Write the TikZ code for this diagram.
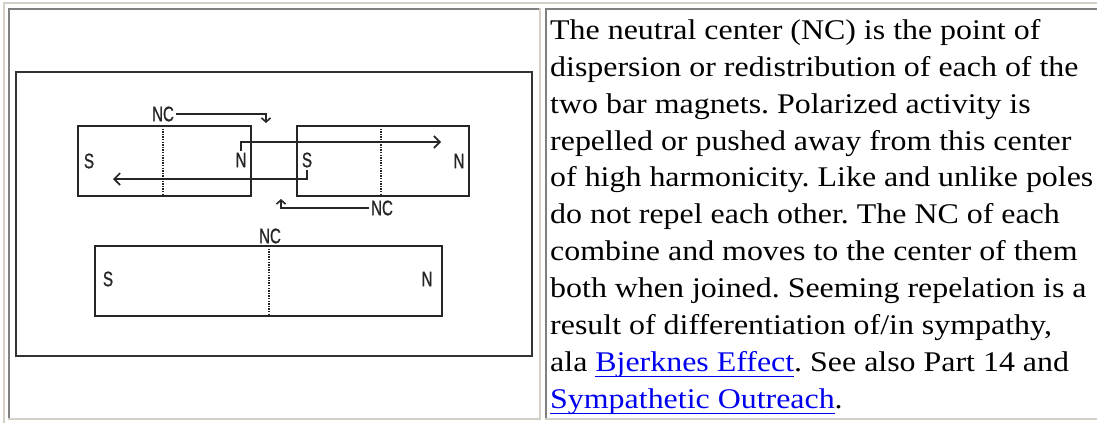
\documentclass[tikz,border=0pt]{standalone}
\usepackage{fontspec}
\usetikzlibrary{arrows.meta,positioning}
\newfontfamily\pixfont[FakeStretch=0.72,FakeBold=1]{Liberation Sans}
\newfontfamily\bodyfont[FakeStretch=1.12]{Liberation Serif}
\definecolor{linkblue}{RGB}{0,0,238}
\definecolor{tableframe}{RGB}{212,208,200}
\definecolor{cellframe}{RGB}{128,128,128}
\newsavebox\linkbox
\newcommand\weblink[1]{\sbox\linkbox{\color{linkblue}#1}{\color{linkblue}\rlap{\rule[-5.75pt]{\wd\linkbox}{1.5pt}}\usebox\linkbox}}
\frenchspacing

\begin{document}
\begin{tikzpicture}[
    x=1pt, y=-1pt,
    >={Straight Barb[length=6pt,width=12pt]},
    bar/.style       = {draw=black!85, line width=1.6pt, minimum height=70pt, inner sep=0pt},
    pole/.style      = {font=\pixfont\fontsize{21}{21}\selectfont, inner sep=2pt, text=black!85},
    flow/.style      = {draw=black!85, line width=1.6pt, ->},
    smallflow/.style = {draw=black!85, line width=1.6pt, -{Straight Barb[length=4pt,width=9pt]}},
    dots/.style      = {draw=black!85, line width=1.3pt, dash pattern=on 1.3pt off 1.3pt},
    txt/.style       = {anchor=base west, inner sep=0pt, font=\bodyfont\fontsize{28.5}{33}\selectfont},
  ]
	\useasboundingbox (0,0) rectangle (1097,423);
	
	% Tabelle
	\draw[tableframe, line width=2pt] (3.5,423) -- (3.5,2.5) -- (1097,2.5);
	\draw[cellframe, line width=2pt] (9,419) -- (9,9) -- (540,9);
	\draw[tableframe, line width=2pt] (540,8) -- (540,419) -- (8,419);
	\draw[cellframe, line width=2pt] (546,419) -- (546,9) -- (1097,9);
	\draw[tableframe, line width=2pt] (545,419) -- (1097,419);
	
	% Bildrahmen
	\draw[black!80, line width=2pt] (16,72) rectangle (532,356);
	
	% Stabmagnete
	\node (Mag1) at (164.5,161) [bar, minimum width=173pt]{};
	\node (Mag2) at (383,161)   [bar, minimum width=172pt]{};
	\node (Mag3) at (268.5,281) [bar, minimum width=347pt]{};
	
	% neutrale Zentren
	\draw[dots] (163,126) -- (163,196);
	\draw[dots] (381,126) -- (381,196);
	\draw[dots] (269,246) -- (269,316);
	
	% Pole
	\node (S1) at (89,161)  [pole]{S};
	\node (N1) at (241,160) [pole]{N};
	\node (S2) at (307,160) [pole]{S};
	\node (N2) at (459,161) [pole]{N};
	\node (S3) at (108,279) [pole]{S};
	\node (N3) at (427,279) [pole]{N};
	
	% NC Beschriftung
	\node (NC1) at (163,114) [pole]{NC};
	\node (NC2) at (382,208) [pole]{NC};
	\node (NC3) at (270,236) [pole]{NC};
	
	% Pfeilenden
	\coordinate (TipA) at (441,142);
	\coordinate (TipB) at (113,179);
	\coordinate (TipC) at (266,123);
	\coordinate (TipD) at (281,199);
	
	% Pfeile
	\draw[flow] (N1.north) |- (TipA);
	\draw[flow] (S2.south) |- (TipB);
	\draw[smallflow] (NC1.east) -| (TipC);
	\draw[smallflow] (NC2.west) -| (TipD);
	
	% Text
	\node (L1)  at (550,39.3)  [txt]{The neutral center (NC) is the point of};
	\node (L2)  at (550,76.2)  [txt]{dispersion or redistribution of each of the};
	\node (L3)  at (550,113.1) [txt]{two bar magnets. Polarized activity is};
	\node (L4)  at (550,150.0) [txt]{repelled or pushed away from this center};
	\node (L5)  at (550,186.9) [txt]{of high harmonicity. Like and unlike poles};
	\node (L6)  at (550,223.8) [txt]{do not repel each other. The NC of each};
	\node (L7)  at (550,260.7) [txt]{combine and moves to the center of them};
	\node (L8)  at (550,297.6) [txt]{both when joined. Seeming repelation is a};
	\node (L9)  at (550,334.5) [txt]{result of differentiation of/in sympathy,};
	\node (L10) at (550,371.4) [txt]{ala \weblink{Bjerknes Effect}. See also Part 14 and};
	\node (L11) at (550,408.3) [txt]{\weblink{Sympathetic Outreach}.};
	
\end{tikzpicture}
\end{document}
